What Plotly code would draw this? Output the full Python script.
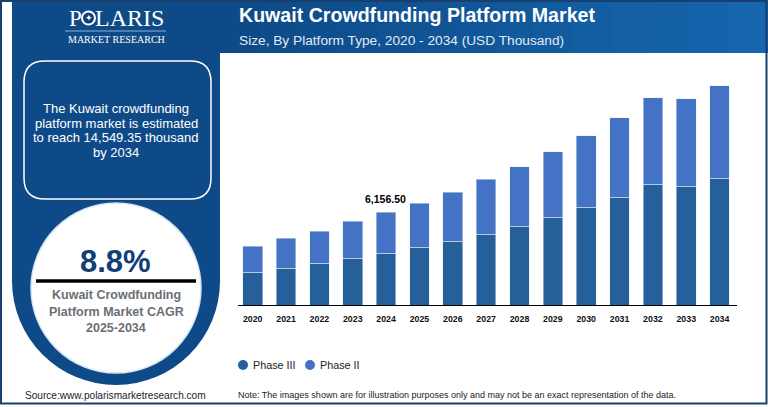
import plotly.graph_objects as go

W, H = 768, 407

years = [str(y) for y in range(2020, 2035)]
phase_3 = [2185, 2450, 2780, 3110, 3440, 3840, 4240, 4700, 5230, 5825, 6490, 7150, 8010, 7880, 8410]
phase_2 = [1720, 1985, 2120, 2450, 2716.5, 2910, 3240, 3640, 3970, 4370, 4765, 5300, 5760, 5825, 6139.35]
legend_names = ["Phase III", "Phase II"]

NAVY = "#0f4a88"
DARK = "#123e78"
C3 = "#26609a"
C2 = "#4472c4"
SANS = "Liberation Sans"
SERIF = "Liberation Serif"


# layout helpers, everything outside the plot is placed in window pixels
def px(x):
    return x / W


def py(y):
    return 1 - y / H


def rect(x0, y0, x1, y1, color):
    return dict(type="rect", xref="paper", yref="paper", x0=px(x0), x1=px(x1), y0=py(y0), y1=py(y1),
                fillcolor=color, line=dict(width=0), layer="below")


def circle(cx, cy, r, color, line=None):
    return dict(type="circle", xref="paper", yref="paper", x0=px(cx - r), x1=px(cx + r), y0=py(cy + r), y1=py(cy - r),
                fillcolor=color, line=line or dict(width=0), layer="below")


def label(x, y, text, size, color="white", family=SANS, anchor="center", bold=False):
    if bold:
        text = "<b>" + text + "</b>"
    return dict(xref="paper", yref="paper", x=px(x), y=py(y), text=text, showarrow=False, xanchor=anchor,
                yanchor="middle", font=dict(family=family, size=size, color=color))


def round_box(x0, y0, x1, y1, r):
    pts = [
        ("M", x0 + r, y0), ("L", x1 - r, y0), ("Q", x1, y0, x1, y0 + r), ("L", x1, y1 - r),
        ("Q", x1, y1, x1 - r, y1), ("L", x0 + r, y1), ("Q", x0, y1, x0, y1 - r), ("L", x0, y0 + r),
        ("Q", x0, y0, x0 + r, y0),
    ]
    path = ""
    for p in pts:
        vals = p[1:]
        coords = [f"{px(vals[i])},{py(vals[i + 1])}" for i in range(0, len(vals), 2)]
        path += p[0] + " ".join(coords) + " "
    return dict(type="path", xref="paper", yref="paper", path=path + "Z", line=dict(color="white", width=1.5),
                fillcolor=NAVY, layer="below")


fig = go.Figure()
fig.add_bar(x=years, y=phase_3, marker_color=C3, width=0.59, showlegend=False)
fig.add_bar(x=years, y=phase_2, marker_color=C2, width=0.59, showlegend=False)

shapes = [
    rect(12, 0, 220, 281, NAVY),
    circle(116, 281, 104, NAVY),
    circle(116, 288, 85, "white", dict(color="#d5e6f3", width=1.5)),
]
# header gradient
steps = 14
for i in range(steps):
    t = i / (steps - 1)
    col = f"rgb({int(14 + 8 * t)},{int(74 + 28 * t)},{int(136 + 38 * t)})"
    shapes.append(rect(220 + i * 548 / steps, 0, 220 + (i + 1) * 548 / steps + 1, 53, col))
shapes += [
    round_box(24, 61, 211, 199, 21),
    dict(type="line", xref="paper", yref="paper", x0=px(65), x1=px(166), y0=py(31), y1=py(31),
         line=dict(color="#8fb0d0", width=1), layer="below"),
    dict(type="line", xref="paper", yref="paper", x0=px(36), x1=px(196), y0=py(281), y1=py(281),
         line=dict(color="black", width=3.5), layer="above"),
    # the O of the logo
    circle(88.5, 18, 7.5, "white"),
    circle(88.5, 18, 5.5, DARK),
    # legend swatches are round and sit closer to their text than a plotly legend allows
    circle(243, 365, 5, C3),
    circle(310, 365, 5, C2),
    dict(type="rect", xref="paper", yref="paper", x0=px(1), x1=px(766.5), y0=py(1), y1=py(403.5),
         line=dict(color="#17406e", width=2), layer="above"),
]

annotations = [
    label(66.5, 18, "P", 23, family=SERIF, anchor="left"),
    label(88.5, 18, "✦", 9, family="DejaVu Sans"),
    label(165.5, 18, "LARIS", 24, family=SERIF, anchor="right"),
    label(116, 39.5, "MARKET RESEARCH", 10, family=SERIF),
    label(236.5, 15, "Kuwait Crowdfunding Platform Market", 19.6, anchor="left", bold=True),
    label(236.5, 40, "Size, By Platform Type, 2020 - 2034 (USD Thousand)", 13.7, color="#e3eaf3", anchor="left"),
    label(116, 108.5, "The Kuwait crowdfunding", 13),
    label(116, 123, "platform market is estimated", 13),
    label(116, 137.5, "to reach 14,549.35 thousand", 13),
    label(116, 152, "by 2034", 13),
    label(115.5, 261, "8.8%", 31, color=DARK, bold=True),
    label(116, 295, "Kuwait Crowdfunding", 12.5, color="#6b6f76", bold=True),
    label(116, 311.5, "Platform Market CAGR", 12.5, color="#6b6f76", bold=True),
    label(116, 328, "2025-2034", 12.5, color="#6b6f76", bold=True),
    label(251, 365, legend_names[0], 10.8, color="#222222", anchor="left"),
    label(318, 365, legend_names[1], 10.8, color="#222222", anchor="left"),
    label(23, 395, "Source:www.polarismarketresearch.com", 10.1, color="#222222", anchor="left"),
    label(236, 395, "Note: The images shown are for illustration purposes only and may not be an exact representation of the data.",
          9, color="#222222", anchor="left"),
    dict(x=years.index("2024"), y=phase_3[4] + phase_2[4], xref="x", yref="y", text="<b>6,156.50</b>", showarrow=False,
         yanchor="bottom", yshift=5, xshift=-1, font=dict(family=SANS, size=10.5, color="black")),
]

fig.update_layout(
    width=W,
    height=H,
    margin=dict(l=0, r=0, t=0, b=0),
    paper_bgcolor="white",
    plot_bgcolor="rgba(0,0,0,0)",
    barmode="stack",
    showlegend=False,
    shapes=shapes,
    annotations=annotations,
    xaxis=dict(domain=[px(238), px(736.6)], type="category", categoryorder="array", categoryarray=years,
               range=[-0.44, 14.51], showgrid=False, showline=True, linecolor="black",
               linewidth=1, ticks="outside", ticklen=5.5, tickcolor="rgba(0,0,0,0)",
               tickfont=dict(family=SANS, size=8.8, color="#111111", weight="bold")),
    yaxis=dict(domain=[py(305), py(55)], range=[0, 16608], visible=False),
)

# the page's default body margin would push the chart off the window
fig.write_html("out.html", config=dict(displayModeBar=False),
               post_script="document.body.style.margin='0';document.body.style.overflow='hidden';")
